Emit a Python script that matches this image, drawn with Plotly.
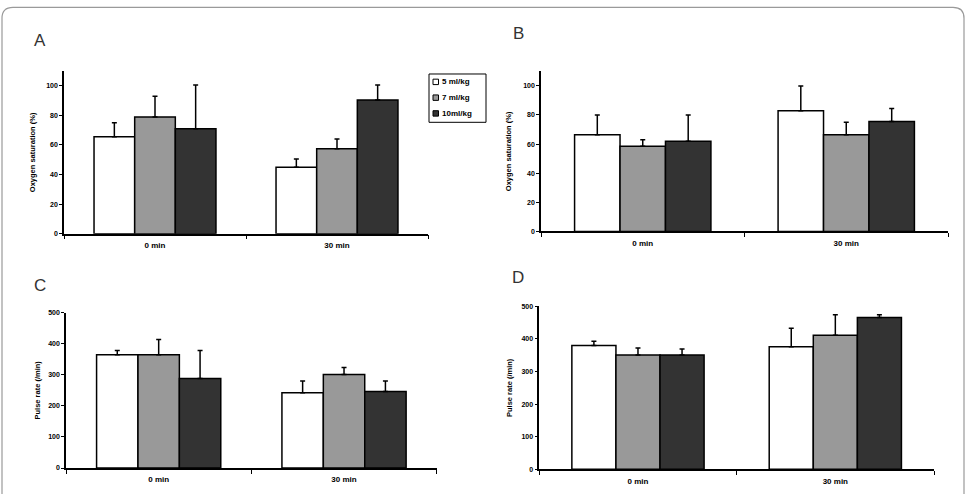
import plotly.graph_objects as go

# ---------------- data ----------------
categories = ["0 min", "30 min"]
series_names = ["5 ml/kg", "7 ml/kg", "10ml/kg"]
series_colors = ["#ffffff", "#999999", "#333333"]

# Panel A: oxygen saturation (%)
a_mean = [[65.5, 45.0], [79.0, 57.5], [71.0, 90.5]]
a_err = [[9.5, 5.5], [14.0, 6.5], [29.5, 10.0]]
# Panel B: oxygen saturation (%)
b_mean = [[66.5, 83.0], [58.5, 66.5], [62.0, 75.5]]
b_err = [[13.5, 17.0], [4.5, 8.5], [18.0, 9.0]]
# Panel C: pulse rate (/min)
c_mean = [[364, 242], [364, 301], [288, 246]]
c_err = [[14, 38], [49, 22], [90, 34]]
# Panel D: pulse rate (/min)
d_mean = [[380, 376], [351, 411], [351, 466]]
d_err = [[13, 57], [21, 63], [18, 8]]

sat_ticks = [0, 20, 40, 60, 80, 100]
pulse_ticks = [0, 100, 200, 300, 400, 500]
panel_letters = ["A", "B", "C", "D"]
ytitles = ["Oxygen saturation (%)", "Oxygen saturation (%)", "Pulse rate (/min)", "Pulse rate (/min)"]

# ---------------- layout helpers ----------------
W, H = 966, 494
def px_x(x):
    return x / W
def px_y(y):
    return 1 - y / H

FONT = "Liberation Sans, Arial, sans-serif"

panels = [
    dict(mean=a_mean, err=a_err, x=(64, 428), y=(68, 233), rng=[0, 110], ticks=sat_ticks, stand=10),
    dict(mean=b_mean, err=b_err, x=(541, 948), y=(68.3, 230.7), rng=[0, 110], ticks=sat_ticks, stand=11),
    dict(mean=c_mean, err=c_err, x=(66, 436.7), y=(313, 470.7), rng=[0, 500], ticks=pulse_ticks, stand=7),
    dict(mean=d_mean, err=d_err, x=(539.3, 934), y=(306.7, 472), rng=[0, 500], ticks=pulse_ticks, stand=8),
]

fig = go.Figure()
layout = dict(
    width=W, height=H,
    margin=dict(l=0, r=0, t=0, b=0),
    paper_bgcolor="white", plot_bgcolor="white",
    barmode="group", bargap=0.33, bargroupgap=0,
    showlegend=False,
    font=dict(family=FONT, color="black"),
)

for i, p in enumerate(panels):
    k = "" if i == 0 else str(i + 1)
    xa, ya = "x" + k, "y" + k
    for s in range(3):
        fig.add_trace(go.Bar(
            x=categories, y=p["mean"][s], name=series_names[s],
            xaxis=xa, yaxis=ya,
            marker=dict(color=series_colors[s], line=dict(color="black", width=1.5)),
            error_y=dict(type="data", array=p["err"][s], arrayminus=[0, 0], symmetric=False,
                         color="black", thickness=1.5, width=2.5),
            legendgroup=series_names[s], showlegend=(i == 0),
        ))
    layout["xaxis" + k] = dict(
        domain=[px_x(p["x"][0]), px_x(p["x"][1])], anchor=ya,
        showline=True, linecolor="black", linewidth=1.5,
        ticks="outside", tickson="boundaries", ticklen=4, tickcolor="black", tickwidth=1,
        ticklabelstandoff=3,
        tickfont=dict(size=8, family=FONT, weight="bold"),
        showgrid=False, zeroline=False, fixedrange=True,
    )
    layout["yaxis" + k] = dict(
        domain=[px_y(p["y"][1]), px_y(p["y"][0])], anchor=xa,
        range=p["rng"], tickvals=p["ticks"],
        showline=True, linecolor="black", linewidth=1.5,
        ticks="outside", ticklen=3, tickcolor="black", tickwidth=1,
        tickfont=dict(size=7, family=FONT, weight="bold"),
        showgrid=False, zeroline=False, fixedrange=True,
        title=dict(text=ytitles[i], font=dict(size=7.5, family=FONT, weight="bold"), standoff=p["stand"]),
    )

fig.update_layout(**layout)

# panel letters
letter_pos = [(39.5, 37), (518, 30), (40, 286), (518, 277)]
for L, (lx, ly) in zip(panel_letters, letter_pos):
    fig.add_annotation(text=L, x=px_x(lx), y=px_y(ly), xref="paper", yref="paper",
                       showarrow=False, xanchor="center", yanchor="middle",
                       font=dict(size=17, family=FONT, color="#333333"))

# manual legend (panel A)
fig.add_shape(type="rect", xref="paper", yref="paper",
              x0=px_x(429), x1=px_x(486), y0=px_y(120), y1=px_y(71),
              line=dict(color="black", width=1), fillcolor="white")
leg_y = [79, 95, 111]
for s in range(3):
    cy = leg_y[s]
    fig.add_shape(type="rect", xref="paper", yref="paper",
                  x0=px_x(433), x1=px_x(438.5), y0=px_y(cy + 2.75), y1=px_y(cy - 2.75),
                  line=dict(color="black", width=1), fillcolor=series_colors[s])
    fig.add_annotation(text=series_names[s], x=px_x(440), y=px_y(cy), xref="paper", yref="paper",
                       showarrow=False, xanchor="left", yanchor="middle",
                       font=dict(size=8, family=FONT, weight="bold"))

# outer rounded frame
x0, x1, yt, yb, r = 2, 964, 3.5, 510, 11
path = (f"M {px_x(x0)},{px_y(yb)} L {px_x(x0)},{px_y(yt + r)} "
        f"Q {px_x(x0)},{px_y(yt)} {px_x(x0 + r)},{px_y(yt)} "
        f"L {px_x(x1 - r)},{px_y(yt)} Q {px_x(x1)},{px_y(yt)} {px_x(x1)},{px_y(yt + r)} "
        f"L {px_x(x1)},{px_y(yb)}")
fig.add_shape(type="path", path=path, xref="paper", yref="paper",
              line=dict(color="#9a9a9a", width=1.2), layer="below")

fig.write_html("out.html")
